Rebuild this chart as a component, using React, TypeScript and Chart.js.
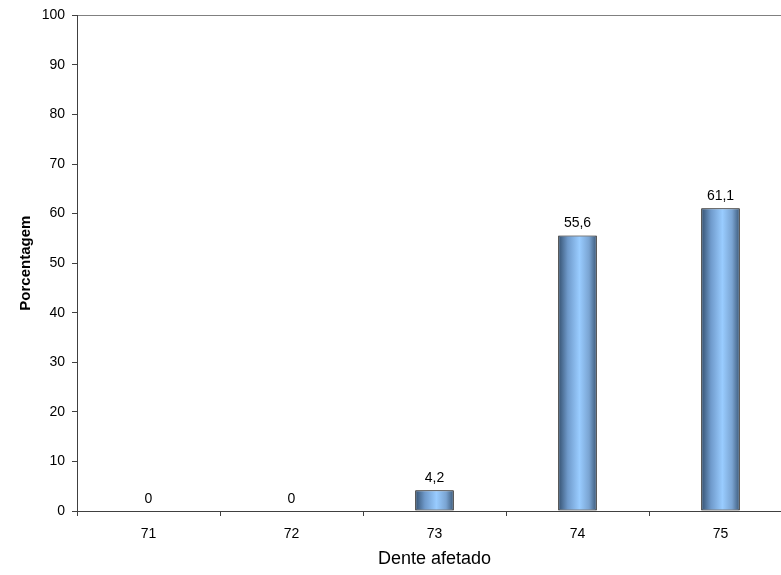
import React, { useEffect, useRef } from "react";
import { Chart, registerables } from "chart.js";

Chart.register(...registerables);

const categories = ["71", "72", "73", "74", "75"];
const values = [0, 0, 4.2, 55.6, 61.1];
const yTicks = [0, 10, 20, 30, 40, 50, 60, 70, 80, 90, 100];
const xTitle = "Dente afetado";
const yTitle = "Porcentagem";

const FONT = "'Liberation Sans', Arial, sans-serif";
const BAR_FRACTION = 0.27;

const labelPlugin = {
  id: "valueLabels",
  afterDatasetsDraw(chart: any) {
    const ctx = chart.ctx;
    const meta = chart.getDatasetMeta(0);
    ctx.save();
    ctx.font = `14px ${FONT}`;
    ctx.fillStyle = "#000";
    ctx.textAlign = "center";
    ctx.textBaseline = "alphabetic";
    meta.data.forEach((bar: any, i: number) => {
      const txt = String(values[i]).replace(".", ",");
      ctx.fillText(txt, bar.x, bar.y - 8);
    });
    ctx.restore();
  },
};

export default function App() {
  const ref = useRef<HTMLCanvasElement>(null);
  useEffect(() => {
    if (!ref.current) return;
    const chart = new Chart(ref.current, {
      type: "bar",
      data: {
        labels: categories,
        datasets: [
          {
            data: values,
            backgroundColor: (c: any) => {
              const ch = c.chart;
              const xs = ch.scales?.x;
              if (!xs || c.dataIndex === undefined) return "#7fa9d6";
              const center = xs.getPixelForValue(c.dataIndex);
              const hw = (xs.width / categories.length) * BAR_FRACTION / 2;
              if (!isFinite(center) || !isFinite(hw) || hw <= 0) return "#7fa9d6";
              const g = ch.ctx.createLinearGradient(center - hw, 0, center + hw, 0);
              g.addColorStop(0, "#34506f");
              g.addColorStop(0.25, "#6f9acb");
              g.addColorStop(0.55, "#99ccff");
              g.addColorStop(0.8, "#7aa4d2");
              g.addColorStop(1, "#3a5878");
              return g;
            },
            borderColor: "#000",
            borderWidth: 1,
            borderSkipped: false,
            barPercentage: BAR_FRACTION,
            categoryPercentage: 1,
          },
        ],
      },
      options: {
        animation: false,
        responsive: false,
        devicePixelRatio: 1,
        layout: { padding: { left: 0, right: 8, top: 15, bottom: 0 } },
        plugins: { legend: { display: false }, tooltip: { enabled: false } },
        scales: {
          x: {
            afterFit: (s: any) => {
              s.height = 64;
            },
            grid: {
              drawOnChartArea: false,
              tickLength: 5,
              tickColor: "#404040",
              offset: true,
            },
            border: { color: "#404040", width: 1 },
            ticks: {
              color: "#000",
              font: { family: FONT, size: 14 },
              padding: 10,
            },
            title: {
              display: true,
              text: xTitle,
              color: "#000",
              font: { family: FONT, size: 18 },
              padding: { top: 0, bottom: 5 },
            },
          },
          y: {
            min: 0,
            max: 100,
            afterFit: (s: any) => {
              s.width = 77;
            },
            afterBuildTicks: (s: any) => {
              s.ticks = yTicks.map((v) => ({ value: v }));
            },
            grid: {
              color: (c: any) => (c.tick && c.tick.value === 100 ? "#808080" : "rgba(0,0,0,0)"),
              tickColor: "#404040",
              tickLength: 5,
            },
            border: { color: "#404040", width: 1 },
            ticks: {
              color: "#000",
              font: { family: FONT, size: 14 },
              padding: 7,
            },
            title: {
              display: true,
              text: yTitle,
              color: "#000",
              font: { family: FONT, size: 15, weight: "bold" },
              padding: { top: 17, bottom: 0 },
            },
          },
        },
      },
      plugins: [labelPlugin],
    });
    return () => chart.destroy();
  }, []);
  return (
    <canvas
      ref={ref}
      width={800}
      height={575}
      style={{ position: "absolute", left: 0, top: 0, width: 800, height: 575 }}
    />
  );
}
